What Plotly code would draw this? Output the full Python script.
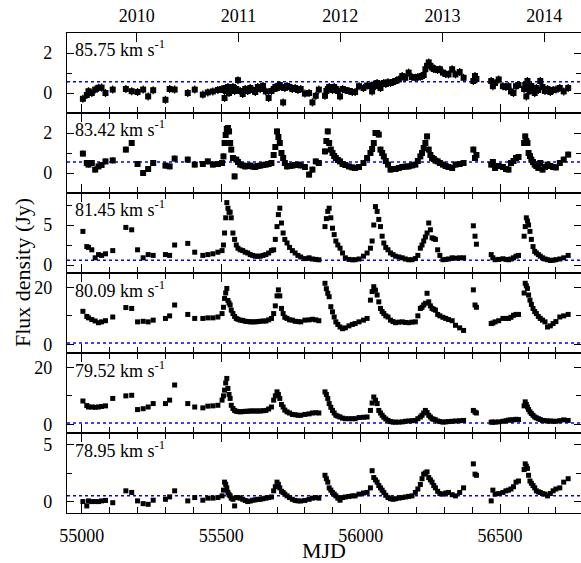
import plotly.graph_objects as go

# ---------------- data ----------------
MJD = [
    55004, 55018, 55024, 55036, 55048, 55060, 55071, 55085, 55111, 55158, 55179, 55200, 55220, 55238, 55256,
    55300, 55315, 55333, 55380, 55405, 55434, 55452, 55470, 55488, 55503,
    55508, 55512, 55516, 55520, 55524, 55528, 55532, 55536, 55542, 55548, 55554, 55560, 55568, 55577, 55586,
    55595, 55604, 55613, 55622, 55631, 55640, 55650, 55660, 55670, 55680,
    55688, 55694, 55700, 55705, 55710, 55716, 55722, 55728, 55736, 55745, 55755, 55765, 55775, 55785, 55800,
    55815, 55827, 55839, 55850,
    55872, 55877, 55882, 55887, 55893, 55899, 55905, 55911, 55918, 55926, 55935, 55945, 55958, 55970,
    55980, 55994, 56010, 56023, 56035,
    56041, 56047, 56053, 56059, 56065, 56071, 56077, 56083, 56090, 56098, 56107, 56116, 56125, 56137, 56149,
    56160, 56172, 56184, 56196, 56205,
    56214, 56220, 56226, 56232, 56238, 56244, 56250, 56256, 56262, 56268, 56276, 56284, 56295, 56305, 56315,
    56328, 56340, 56355, 56369,
    56404, 56410, 56415,
    56468, 56474, 56482, 56495, 56510, 56521, 56530, 56539, 56548, 56557, 56566,
    56586, 56590, 56594, 56598, 56602, 56607, 56612, 56618, 56624, 56630, 56637, 56644, 56652, 56661, 56670,
    56680, 56690, 56700, 56714, 56728, 56744,
]

FLUX_8575 = [
    -0.29, -0.10, 0.09, 0.00, 0.17, 0.26, 0.27, 0.00, 0.17, 0.20, 0.09, 0.05, 0.17, -0.17, 0.14, -0.34, 0.20, 0.17, 0.00, 0.17, -0.08, 0.03, 0.08, 0.15, 0.20,
    0.15, -0.25, 0.25, 0.10, 0.30, 0.00, 0.20, 0.15, 0.30, 0.10, 0.20, 0.64, 0.10, -0.05, 0.20, 0.10, 0.25, 0.15, 0.05, 0.30, 0.20, 0.35, 0.08, -0.25, 0.10,
    0.20, 0.30, 0.25, 0.35, 0.40, 0.30, -0.47, 0.25, 0.35, 0.30, 0.20, 0.25, 0.15, 0.20, -0.03, 0.00, -0.47, -0.14, 0.17,
    -0.14, 0.10, 0.20, 0.30, 0.25, 0.15, 0.30, 0.20, 0.10, -0.17, 0.20, 0.15, 0.10, 0.05,
    0.05, 0.34, 0.25, 0.37, 0.34,
    0.08, 0.42, 0.35, 0.50, 0.40, 0.25, 0.45, 0.50, 0.45, 0.54, 0.50, 0.55, 0.60, 0.68, 0.85, 0.76, 1.02, 0.80, 0.76, 0.80,
    0.81, 0.85, 0.90, 1.19, 1.36, 1.53, 1.36, 1.27, 1.20, 1.19, 1.15, 1.19, 1.02, 0.95, 0.93, 1.19, 0.93, 1.05, 0.76,
    0.60, 0.85, 0.70,
    0.60, 0.34, 0.50, 0.68, 0.34, 0.30, 0.34, 0.08, 0.00, 0.34, 0.40,
    0.20, 0.40, -0.17, 0.60, 0.30, 0.10, 0.35, 0.20, 0.00, 0.25, 0.15, 0.60, 0.30, 0.10, 0.20, 0.05, 0.15, 0.17, 0.25, 0.08, 0.25,
]

FLUX_8342 = [
    0.97, 0.50, 0.42, 0.50, 0.17, 0.33, 0.40, 0.58, 0.63, 1.17, 1.50, 0.45, 0.00, 0.20, 0.50, 0.37, 0.33, 0.72, 0.67, 0.42, 0.45, 0.58, 0.42, 0.45, 0.50,
    0.83, 1.50, 1.90, 2.20, 2.25, 2.08, 1.50, 1.17, 0.75, -0.17, 0.67, 0.55, 0.42, 0.38, 0.33, 0.35, 0.37, 0.32, 0.30, 0.35, 0.37, 0.40, 0.42, 0.45, 0.50,
    0.90, 1.30, 2.08, 1.80, 1.50, 1.00, 0.75, 0.50, 0.33, 0.35, 0.37, 0.40, 0.42, 0.38, 0.30, -0.08, 0.17, 0.58, 0.50,
    1.08, 1.60, 2.08, 1.50, 1.17, 1.00, 0.85, 0.75, 0.65, 0.58, 0.45, 0.40, 0.33, 0.28,
    0.25, 0.30, 0.50, 0.75, 1.00,
    1.20, 1.50, 2.00, 2.00, 1.92, 1.17, 1.00, 0.83, 0.60, 0.42, 0.17, 0.20, 0.20, 0.25, 0.30, 0.32, 0.33, 0.38, 0.42, 0.60,
    0.83, 1.00, 1.25, 1.50, 1.83, 1.17, 0.90, 0.75, 0.70, 0.62, 0.58, 0.50, 0.42, 0.35, 0.30, 0.25, 0.42, 0.45, 0.50,
    1.17, 0.75, 0.90,
    0.42, 0.55, 0.25, 0.35, 0.30, 0.20, 0.17, 0.50, 0.60, 0.75, 0.80,
    1.50, 1.83, 1.60, 1.50, 1.00, 0.85, 0.67, 0.55, 0.42, 0.35, 0.25, 0.50, 0.17, 0.30, 0.42, 0.35, 0.30, 0.28, 0.50, 0.67, 0.92,
]

FLUX_8145 = [
    4.2, 2.3, 2.2, 1.9, 0.9, 1.3, 1.2, 1.4, 1.8, 4.7, 4.4, 1.9, 0.9, 1.3, 1.2, 1.3, 1.2, 2.5, 2.7, 1.6, 1.2, 1.3, 1.4, 1.6, 1.8,
    2.5, 4.0, 5.9, 7.8, 7.1, 6.6, 6.6, 5.9, 4.0, 3.2, 2.5, 2.1, 1.9, 1.8, 1.6, 1.5, 1.3, 1.2, 1.1, 1.1, 1.1, 1.2, 1.3, 1.5, 1.8,
    1.9, 3.2, 4.8, 6.3, 7.1, 5.25, 4.0, 3.2, 2.75, 2.2, 1.8, 1.5, 1.2, 1.0, 0.8, 0.9, 0.75, 0.7, 0.65,
    4.8, 5.8, 6.7, 7.1, 5.9, 4.6, 3.8, 3.0, 2.5, 2.1, 1.5, 0.9, 0.7, 0.65,
    0.66, 0.75, 1.1, 1.5, 2.1,
    3.0, 5.0, 7.3, 6.7, 5.7, 4.8, 3.6, 2.75, 2.2, 1.9, 1.5, 1.3, 1.1, 1.0, 0.9, 0.75, 0.66, 0.66, 0.8, 1.2,
    2.1, 2.5, 3.0, 3.5, 4.0, 5.25, 4.4, 3.4, 3.3, 3.2, 1.9, 1.2, 0.66, 0.7, 0.75, 0.9, 0.85, 0.9, 0.9,
    4.9, 3.6, 2.6,
    1.3, 0.9, 0.66, 0.7, 0.78, 0.7, 0.66, 0.75, 0.9, 1.1, 1.2,
    3.6, 4.8, 5.9, 5.5, 5.0, 4.2, 3.2, 2.3, 1.7, 1.5, 1.3, 1.1, 0.9, 0.75, 0.66, 0.57, 0.6, 0.66, 0.75, 0.9, 1.2,
]

FLUX_8009 = [
    11.6, 9.8, 9.3, 8.7, 8.2, 7.6, 7.9, 8.3, 9.6, 12.9, 12.6, 7.9, 8.1, 7.9, 8.5, 9.1, 10.0, 13.8, 10.5, 9.1, 9.1, 9.3, 9.3, 9.6, 10.8,
    13.0, 16.1, 18.0, 19.6, 15.4, 14.5, 13.8, 12.0, 10.8, 9.8, 9.1, 8.8, 8.5, 8.4, 8.1, 8.0, 7.9, 7.9, 7.9, 8.0, 8.1, 8.2, 8.2, 8.6, 9.1,
    10.8, 13.5, 17.0, 19.1, 17.0, 12.6, 10.8, 9.5, 9.1, 8.6, 8.5, 8.1, 8.0, 7.9, 8.5, 8.6, 8.8, 8.6, 8.3,
    21.4, 19.5, 17.9, 16.7, 13.2, 11.4, 9.6, 7.9, 7.0, 6.1, 5.5, 5.8, 6.5, 7.0,
    7.3, 7.9, 8.5, 9.1, 15.5,
    18.5, 20.2, 19.0, 17.3, 14.9, 12.6, 11.5, 10.8, 10.0, 9.6, 8.5, 8.0, 7.6, 7.8, 7.9, 7.7, 7.6, 7.8, 7.9, 10.0,
    12.6, 13.0, 13.8, 14.4, 17.9, 14.9, 13.5, 12.6, 12.3, 12.0, 10.5, 10.0, 9.5, 9.1, 8.7, 8.3, 6.7, 5.8, 4.9,
    19.1, 13.8, 13.0,
    7.3, 7.5, 7.9, 8.3, 9.1, 9.1, 9.1, 9.5, 10.2, 10.5, 10.5,
    18.0, 21.4, 20.5, 19.6, 17.3, 15.5, 14.0, 12.6, 11.5, 10.8, 9.8, 9.1, 8.5, 7.9, 6.1, 6.5, 7.3, 8.0, 9.6, 10.0, 10.5,
]

FLUX_7952 = [
    8.2, 6.6, 6.1, 6.1, 6.0, 6.1, 6.3, 6.5, 9.1, 10.0, 10.2, 5.2, 5.5, 6.1, 7.3, 7.3, 8.5, 13.8, 7.3, 6.1, 5.8, 6.4, 6.5, 6.7, 8.5,
    10.0, 12.0, 14.5, 16.1, 12.6, 10.5, 9.1, 6.7, 5.6, 4.9, 4.6, 4.5, 4.4, 4.5, 4.6, 4.6, 4.7, 4.7, 4.7, 4.7, 4.7, 4.8, 4.9, 5.4, 6.1,
    8.5, 10.0, 11.4, 10.5, 9.1, 7.0, 6.1, 5.0, 4.4, 4.0, 3.5, 3.4, 3.2, 3.2, 3.5, 3.7, 4.0, 4.1, 4.0,
    11.4, 10.5, 9.1, 7.3, 6.0, 4.9, 4.0, 3.2, 2.9, 2.6, 2.2, 2.0, 2.0, 2.0,
    2.0, 2.4, 2.5, 2.6, 4.9,
    7.5, 9.6, 8.5, 7.3, 4.9, 4.0, 3.2, 2.5, 1.9, 1.4, 1.0, 0.8, 0.8, 0.8, 0.9, 1.1, 1.2, 1.3, 1.4, 2.0,
    2.6, 3.2, 4.0, 4.9, 4.2, 3.2, 2.6, 2.0, 1.8, 1.6, 1.2, 1.0, 0.8, 0.9, 1.0, 1.1, 1.2, 1.3, 1.4,
    4.9, 4.3, 4.0,
    0.8, 0.8, 0.8, 0.9, 1.1, 1.3, 1.5, 1.6, 1.6, 1.8, 1.7,
    6.5, 7.9, 7.0, 6.1, 5.2, 4.4, 3.8, 3.2, 2.6, 2.3, 2.0, 1.7, 1.4, 1.3, 1.2, 1.2, 1.1, 1.1, 1.3, 1.6, 1.4,
]

FLUX_7895 = [
    0.0, -0.38, 0.06, 0.0, 0.0, 0.0, 0.06, 0.1, -0.1, 0.94, 0.8, 0.06, -0.18, -0.24, 0.12, 0.2, 0.41, 0.94, 0.06, 0.35, 0.12, 0.3, 0.3, 0.35, 0.5,
    1.0, 1.7, 1.5, 1.2, 0.8, 0.6, 0.5, 0.3, 0.2, -0.38, 0.35, 0.35, 0.3, 0.2, 0.1, 0.0, 0.05, 0.12, 0.15, 0.2, 0.2, 0.25, 0.3, 0.35, 0.4,
    0.94, 1.3, 1.7, 1.5, 1.2, 0.9, 0.8, 0.65, 0.5, 0.35, 0.2, 0.1, 0.06, 0.05, 0.1, 0.2, 0.3, 0.35, 0.3,
    2.3, 2.0, 1.7, 1.2, 1.0, 0.8, 0.65, 0.5, 0.3, 0.12, 0.35, 0.4, 0.45, 0.5,
    0.5, 0.65, 0.75, 0.8, 1.2,
    2.7, 2.1, 1.9, 1.7, 1.4, 1.2, 1.0, 0.8, 0.55, 0.35, 0.25, 0.2, 0.25, 0.3, 0.35, 0.4, 0.45, 0.5, 0.8, 1.1,
    1.5, 2.0, 2.4, 2.5, 2.6, 2.1, 1.9, 1.7, 1.4, 1.2, 0.9, 0.7, 0.65, 0.75, 0.8, 0.6, 0.5, 0.8, 1.2,
    3.3, 2.4, 2.3,
    0.06, 1.0, 0.65, 0.7, 0.8, 0.94, 1.0, 1.1, 1.3, 1.7, 1.8,
    2.8, 3.3, 3.1, 2.9, 2.3, 1.8, 1.6, 1.4, 1.2, 0.94, 0.85, 0.8, 0.7, 0.65, 0.5, 0.7, 0.94, 1.1, 1.2, 1.7, 2.0,
]

VELOCITIES = ["85.75", "83.42", "81.45", "80.09", "79.52", "78.95"]
SERIES = [FLUX_8575, FLUX_8342, FLUX_8145, FLUX_8009, FLUX_7952, FLUX_7895]
ERRORS = [0.2, 0.15, None, None, None, None]          # typical 1-sigma error (Jy)
THRESHOLDS = [0.56, 0.55, 0.6, 0.5, 0.5, 0.5]           # blue dotted detection levels (Jy)
Y_RANGES = [[-1, 3], [-1, 3], [-1, 9], [-3, 25], [-3, 25], [-1, 6]]
Y_DTICK = [2, 2, 5, 20, 20, 5]
Y_MINOR = [1, 1, 2.5, 10, 10, 2.5]

X_RANGE = [54947, 56790]
YEAR_MJD = [55197, 55562, 55927, 56293, 56658]
YEAR_LABELS = ["2010", "2011", "2012", "2013", "2014"]

for s in SERIES:
    assert len(s) == len(MJD), (len(s), len(MJD))

# ---------------- figure ----------------
FONT = "Liberation Serif"
fig = go.Figure()
n = len(SERIES)

for i, (flux, err) in enumerate(zip(SERIES, ERRORS), start=1):
    sfx = "" if i == 1 else str(i)
    tr = dict(
        x=MJD, y=flux, mode="markers",
        marker=dict(symbol="square", size=6 if err else 5, color="black", line=dict(width=0)),
        xaxis="x" + sfx, yaxis="y" + sfx, showlegend=False, hoverinfo="skip",
    )
    if err is not None:
        tr["error_y"] = dict(type="constant", value=err, thickness=1.3, width=0, color="black")
    fig.add_trace(go.Scatter(**tr))

# invisible trace that carries the top (calendar year) axis
fig.add_trace(go.Scatter(x=YEAR_MJD, y=[None] * len(YEAR_MJD), xaxis="x7", yaxis="y",
                         mode="markers", showlegend=False, hoverinfo="skip"))

layout = dict(
    width=581, height=563,
    margin=dict(l=67, r=0, t=33, b=50, autoexpand=False),
    paper_bgcolor="white", plot_bgcolor="white",
    font=dict(family=FONT, size=18, color="black"),
    showlegend=False,
)

tick_common = dict(tickcolor="black", tickwidth=1.2, showgrid=False, zeroline=False,
                   showline=True, linecolor="black", linewidth=1.2, automargin=False)

for i in range(1, n + 1):
    sfx = "" if i == 1 else str(i)
    xa = dict(
        domain=[0, 1], range=X_RANGE, anchor="y" + sfx,
        mirror=("ticks" if i > 1 else True),
        ticks="inside", ticklen=9, tick0=55000, dtick=500, tickformat="d",
        minor=dict(dtick=100, tick0=55000, ticks="inside", ticklen=6, tickcolor="black", tickwidth=1.2),
        showticklabels=(i == n), tickfont=dict(family=FONT, size=18),
        ticklabelstandoff=6,
        **tick_common,
    )
    if i > 1:
        xa["matches"] = "x"
    if i == n:
        xa["title"] = dict(text="MJD", font=dict(family=FONT, size=22), standoff=0)
    layout["xaxis" + sfx] = xa

    ya = dict(
        domain=[1 - i / n, 1 - (i - 1) / n], range=Y_RANGES[i - 1], anchor="x" + sfx,
        mirror="ticks", ticks="inside", ticklen=7, tick0=0, dtick=Y_DTICK[i - 1],
        minor=dict(dtick=Y_MINOR[i - 1], tick0=0, ticks="inside", ticklen=5, tickcolor="black", tickwidth=1.2),
        tickfont=dict(family=FONT, size=18), ticklabelstandoff=10,
        **tick_common,
    )
    layout["yaxis" + sfx] = ya

layout["xaxis7"] = dict(
    overlaying="x", side="top", anchor="y", range=X_RANGE,
    tickvals=YEAR_MJD, ticktext=YEAR_LABELS, ticks="inside", ticklen=9,
    tickcolor="black", tickwidth=1.2, showline=False, showgrid=False, zeroline=False,
    tickfont=dict(family=FONT, size=18), ticklabelstandoff=6, automargin=False,
)

shapes = []
annotations = []
for i in range(1, n + 1):
    sfx = "" if i == 1 else str(i)
    shapes.append(dict(type="line", xref="x" + sfx + " domain", x0=0, x1=1,
                       yref="y" + sfx, y0=THRESHOLDS[i - 1], y1=THRESHOLDS[i - 1],
                       line=dict(color="blue", width=1.5, dash="dot"), layer="below"))
    annotations.append(dict(text=VELOCITIES[i - 1] + " km s<sup>-1</sup>",
                            xref="x" + sfx + " domain", yref="y" + sfx + " domain",
                            x=0.012, y=0.8, xanchor="left", yanchor="middle", showarrow=False,
                            font=dict(family=FONT, size=18)))

annotations.append(dict(text="Flux density (Jy)", xref="paper", yref="paper", x=0, y=0.5,
                        xanchor="center", yanchor="middle", xshift=-45, textangle=-90,
                        showarrow=False, font=dict(family=FONT, size=22)))

layout["shapes"] = shapes
layout["annotations"] = annotations
fig.update_layout(**layout)

fig.write_html("out.html", config={"displayModeBar": False},
               post_script="document.body.style.margin='0';")
